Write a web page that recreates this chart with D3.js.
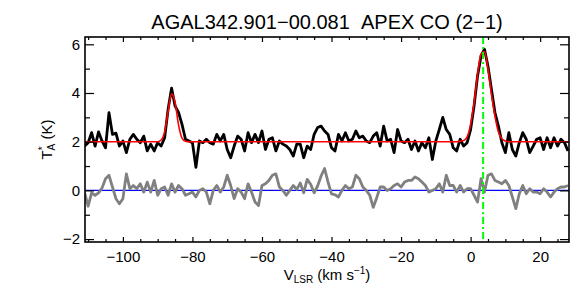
<!DOCTYPE html>
<html>
<head>
<meta charset="utf-8">
<script src="https://cdn.jsdelivr.net/npm/d3@7"></script>
<style>
  body { margin: 0; background: #fff; }
  text { font-family: "Liberation Sans", Arial, Helvetica, sans-serif; fill: #000; }
</style>
</head>
<body>
<script>
// Channel velocities (km/s), one per km/s across the band
const velocity = [
  -111,-110,-109,-108,-107,-106,-105,-104,-103,-102,
  -101,-100,-99,-98,-97,-96,-95,-94,-93,-92,
  -91,-90,-89,-88,-87,-86,-85,-84,-83,-82,
  -81,-80,-79,-78,-77,-76,-75,-74,-73,-72,
  -71,-70,-69,-68,-67,-66,-65,-64,-63,-62,
  -61,-60,-59,-58,-57,-56,-55,-54,-53,-52,
  -51,-50,-49,-48,-47,-46,-45,-44,-43,-42,
  -41,-40,-39,-38,-37,-36,-35,-34,-33,-32,
  -31,-30,-29,-28,-27,-26,-25,-24,-23,-22,
  -21,-20,-19,-18,-17,-16,-15,-14,-13,-12,
  -11,-10,-9,-8,-7,-6,-5,-4,-3,-2,
  -1,0,1,2,3,4,5,6,7,8,
  9,10,11,12,13,14,15,16,17,18,
  19,20,21,22,23,24,25,26,27,28
];

// Observed spectrum (offset by +2 K)
const spectrum = [
  1.82,1.96,2.37,1.82,2.40,2.03,1.75,3.19,2.30,2.35,
  1.82,2.03,1.55,2.10,2.30,2.10,1.96,2.23,1.62,1.90,
  1.62,1.96,1.82,2.16,3.33,4.20,3.47,3.20,2.71,2.10,
  2.03,1.96,0.95,2.03,1.96,2.10,1.96,1.90,2.30,2.03,
  2.30,1.68,1.34,1.82,2.23,2.10,1.62,2.37,1.96,2.30,
  1.96,2.44,1.68,2.10,2.16,1.62,2.03,1.90,1.82,1.68,
  1.41,1.90,1.90,1.34,1.82,1.68,2.30,2.58,2.64,2.44,
  2.30,1.75,1.62,2.30,2.03,2.37,2.03,2.10,2.44,2.16,
  2.23,2.03,1.96,2.23,2.37,1.82,2.64,2.03,2.10,1.55,
  2.50,2.03,1.96,2.10,1.68,2.03,1.62,1.96,1.75,2.16,
  1.27,2.03,2.50,3.00,2.50,2.30,1.75,1.62,2.10,1.82,
  1.96,2.50,3.47,4.70,5.52,5.80,5.10,4.15,3.20,2.64,
  1.96,1.55,2.37,1.68,1.41,1.96,2.37,2.10,1.55,1.82,
  2.10,2.16,1.68,2.16,1.75,2.16,1.82,2.10,1.96,1.62
];

// Gaussian fit as drawn (red)
const fit = [
  2.00,2.00,2.00,2.00,2.00,2.00,2.00,2.00,2.00,2.00,
  2.00,2.00,2.00,2.00,2.00,2.00,2.00,2.00,2.00,2.00,
  2.00,2.00,2.07,2.40,3.24,3.97,3.62,2.69,2.15,2.02,
  2.00,2.00,2.00,2.00,2.00,2.00,2.00,2.00,2.00,2.00,
  2.00,2.00,2.00,2.00,2.00,2.00,2.00,2.00,2.00,2.00,
  2.00,2.00,2.00,2.00,2.00,2.00,2.00,2.00,2.00,2.00,
  2.00,2.00,2.00,2.00,2.00,2.00,2.00,2.00,2.00,2.00,
  2.00,2.00,2.00,2.00,2.00,2.00,2.00,2.00,2.00,2.00,
  2.00,2.00,2.00,2.00,2.00,2.00,2.00,2.00,2.00,2.00,
  2.00,2.00,2.00,2.00,2.00,2.00,2.00,2.00,2.00,2.00,
  2.00,2.00,2.00,2.00,2.00,2.00,2.00,2.00,2.02,2.05,
  2.20,2.70,3.60,4.75,5.60,5.70,5.00,3.95,3.05,2.40,
  2.12,2.03,2.00,2.00,2.00,2.00,2.00,2.00,2.00,2.00,
  2.00,2.00,2.00,2.00,2.00,2.00,2.00,2.00,2.00,2.00
];

// Grey spectrum around zero
const residual = [
  -0.10,-0.65,-0.10,-0.20,-0.10,0.10,0.48,0.62,0.14,-0.34,
  -0.55,-0.34,0.68,0.07,0.20,0.07,0.27,-0.07,0.34,-0.07,
  0.41,-0.20,0.07,0.14,-0.20,0.27,-0.07,0.20,0.07,-0.20,
  -0.14,-0.07,-0.27,0.00,0.07,-0.07,-0.55,0.00,0.20,-0.07,
  0.14,0.62,0.20,-0.34,0.07,-0.07,-0.34,0.27,-0.07,-0.48,
  -0.62,0.20,0.27,0.41,0.62,0.68,0.14,0.00,-0.20,0.00,
  0.20,0.04,0.30,-0.10,0.45,0.25,-0.10,0.18,0.59,0.90,
  0.34,-0.14,-0.18,-0.27,0.00,0.20,0.07,0.14,0.62,0.48,
  0.14,0.00,-0.20,-0.70,-0.30,0.14,0.14,0.00,0.07,0.20,
  0.27,0.14,0.34,0.41,0.41,0.55,0.48,0.34,0.20,-0.07,
  0.00,0.07,0.27,-0.07,0.62,0.20,0.20,-0.07,0.20,-0.07,
  0.07,0.07,-0.20,-0.48,0.48,-0.07,0.62,0.68,0.41,0.34,
  0.27,0.41,0.20,-0.27,-0.75,-0.14,0.20,-0.14,0.07,-0.07,
  -0.07,-0.14,0.07,-0.07,-0.27,-0.07,0.07,0.14,0.14,0.20
];

const sourceVelocity = 3.6;
const xMajor = [-100, -80, -60, -40, -20, 0, 20];
const xMinor = [-110, -105, -95, -90, -85, -75, -70, -65, -55, -50, -45, -35, -30, -25, -15, -10, -5, 5, 10, 15, 25];
const yMajor = [-2, 0, 2, 4, 6];
const yMinor = [-1, 1, 3, 5];

const width = 586, height = 293;
const margin = { top: 37, right: 17, bottom: 51, left: 85 };

const svg = d3.select("body").append("svg")
  .attr("width", width)
  .attr("height", height);

const x = d3.scaleLinear()
  .domain([-110.9, 28.3])
  .range([margin.left, width - margin.right]);

const y = d3.scaleLinear()
  .domain([-2.12, 6.3])
  .range([height - margin.bottom, margin.top]);

svg.append("clipPath").attr("id", "plot")
  .append("rect")
  .attr("x", margin.left).attr("y", margin.top)
  .attr("width", width - margin.left - margin.right)
  .attr("height", height - margin.top - margin.bottom);

const rows = velocity.map((v, i) => ({ v, t: spectrum[i], f: fit[i], r: residual[i] }));

const plot = svg.append("g").attr("clip-path", "url(#plot)");

// zero line
plot.append("line")
  .attr("x1", x.range()[0]).attr("x2", x.range()[1])
  .attr("y1", y(0)).attr("y2", y(0))
  .attr("stroke", "#0000ff").attr("stroke-width", 1.3);

plot.append("path")
  .datum(rows)
  .attr("fill", "none")
  .attr("stroke", "#808080")
  .attr("stroke-width", 2.8)
  .attr("stroke-linejoin", "round")
  .attr("d", d3.line().x(d => x(d.v)).y(d => y(d.r)));

plot.append("path")
  .datum(rows)
  .attr("fill", "none")
  .attr("stroke", "#000")
  .attr("stroke-width", 2.8)
  .attr("stroke-linejoin", "round")
  .attr("d", d3.line().x(d => x(d.v)).y(d => y(d.t)));

plot.append("path")
  .datum(rows)
  .attr("fill", "none")
  .attr("stroke", "#ff0000")
  .attr("stroke-width", 1.6)
  .attr("d", d3.line().curve(d3.curveMonotoneX).x(d => x(d.v)).y(d => y(d.f)));

// source velocity marker
plot.append("line")
  .attr("x1", x(sourceVelocity)).attr("x2", x(sourceVelocity))
  .attr("y1", y.range()[1]).attr("y2", y.range()[0])
  .attr("stroke", "#00ff00").attr("stroke-width", 2)
  .attr("stroke-dasharray", "7,3,2,3");

// Axes
function styleAxis(g) {
  g.select(".domain").remove();
  g.selectAll("line").attr("stroke", "#000").attr("stroke-width", 1.2);
  g.selectAll("text").attr("font-size", 15).attr("font-family", "'Liberation Sans', Arial, sans-serif");
}

const yb = height - margin.bottom, yt = margin.top;
const xl = margin.left, xr = width - margin.right;

svg.append("g").attr("transform", `translate(0,${yb})`)
  .call(d3.axisBottom(x).tickValues(xMajor).tickSize(-5).tickPadding(9))
  .call(styleAxis);
svg.append("g").attr("transform", `translate(0,${yb})`)
  .call(d3.axisBottom(x).tickValues(xMinor).tickSize(-3).tickFormat(""))
  .call(styleAxis);
svg.append("g").attr("transform", `translate(0,${yt})`)
  .call(d3.axisTop(x).tickValues(xMajor).tickSize(-5).tickFormat(""))
  .call(styleAxis);
svg.append("g").attr("transform", `translate(0,${yt})`)
  .call(d3.axisTop(x).tickValues(xMinor).tickSize(-3).tickFormat(""))
  .call(styleAxis);

svg.append("g").attr("transform", `translate(${xl},0)`)
  .call(d3.axisLeft(y).tickValues(yMajor).tickSize(-9).tickPadding(5))
  .call(styleAxis);
svg.append("g").attr("transform", `translate(${xl},0)`)
  .call(d3.axisLeft(y).tickValues(yMinor).tickSize(-5).tickFormat(""))
  .call(styleAxis);
svg.append("g").attr("transform", `translate(${xr},0)`)
  .call(d3.axisRight(y).tickValues(yMajor).tickSize(-9).tickFormat(""))
  .call(styleAxis);
svg.append("g").attr("transform", `translate(${xr},0)`)
  .call(d3.axisRight(y).tickValues(yMinor).tickSize(-5).tickFormat(""))
  .call(styleAxis);

// frame
svg.append("rect")
  .attr("x", xl).attr("y", yt)
  .attr("width", xr - xl).attr("height", yb - yt)
  .attr("fill", "none").attr("stroke", "#000").attr("stroke-width", 1.6);

// Title
svg.append("text")
  .attr("x", (xl + xr) / 2).attr("y", 29)
  .attr("text-anchor", "middle")
  .attr("font-size", 20)
  .text("AGAL342.901\u221200.081\u00a0\u00a0APEX CO (2\u22121)");

// X label
const xlab = svg.append("text")
  .attr("x", (xl + xr) / 2).attr("y", 280)
  .attr("text-anchor", "middle")
  .attr("font-size", 15);
xlab.append("tspan").text("V");
xlab.append("tspan").attr("font-size", 10).attr("dy", 3).text("LSR");
xlab.append("tspan").attr("dy", -3).text(" (km s");
xlab.append("tspan").attr("font-size", 10).attr("dy", -6).text("\u22121");
xlab.append("tspan").attr("dy", 6).text(")");

// Y label
const ylab = svg.append("text")
  .attr("transform", `translate(52,${(yt + yb) / 2}) rotate(-90)`)
  .attr("text-anchor", "middle")
  .attr("font-size", 15);
ylab.append("tspan").text("T");
ylab.append("tspan").attr("font-size", 10).attr("dy", -6).text("*");
ylab.append("tspan").attr("font-size", 10).attr("dx", -4).attr("dy", 9).text("A");
ylab.append("tspan").attr("dy", -3).text(" (K)");
</script>
</body>
</html>
